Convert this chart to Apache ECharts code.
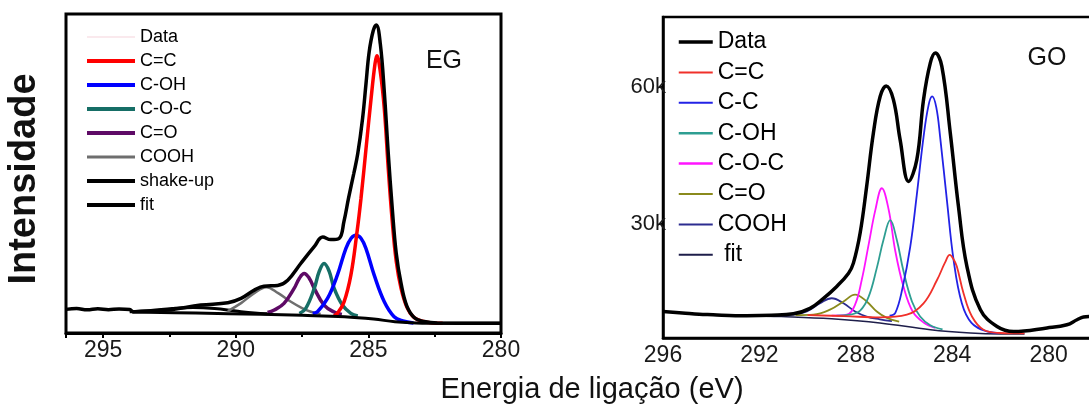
<!DOCTYPE html>
<html>
<head>
<meta charset="utf-8">
<script src="https://cdn.jsdelivr.net/npm/echarts@6/dist/echarts.min.js"></script>
<style>
  html, body { margin: 0; padding: 0; background: #fff; }
  #chart { width: 1089px; height: 407px; }
</style>
</head>
<body>
<div id="chart"></div>
<script>
// EG panel, intensity in arbitrary units  [binding energy eV, intensity]
const egFit = [[296.4, 23.7], [296.0, 24.5], [295.6, 23.2], [295.2, 24.3], [294.8, 23.4], [294.4, 24.2], [294.0, 23.5],
  [293.85, 21.3], [292.57, 23], [291.32, 28], [290.3, 30.3], [289.8, 34.7], [289.3, 43], [288.94, 47], [288.42, 47.7],
  [288.04, 53], [287.55, 69.7], [287.05, 86.3], [286.72, 96.3], [286.42, 93.7], [286.1, 95], [285.92, 112], [285.75, 135],
  [285.55, 160], [285.4, 180], [285.22, 215], [285.09, 250], [284.97, 282], [284.82, 303], [284.7, 309], [284.55, 290],
  [284.4, 242], [284.25, 180], [284.1, 125], [283.95, 80], [283.77, 50], [283.55, 27], [283.25, 15], [282.9, 11.5],
  [282.4, 10], [280, 9.7]]
const egCC = [[286.3, 17], [286.17, 19.7], [285.92, 31], [285.66, 58], [285.43, 101], [285.28, 134.7], [285.09, 184.7],
  [284.9, 234.7], [284.75, 270], [284.68, 278], [284.55, 262], [284.4, 225], [284.25, 165], [284.1, 112], [283.95, 72],
  [283.77, 45], [283.55, 26], [283.3, 16], [283.0, 12], [282.6, 10], [282.2, 9.7]]
const egCOH = [[287.1, 19.5], [286.92, 21.3], [286.54, 34.7], [286.17, 58], [285.85, 84.7], [285.65, 95], [285.47, 98],
  [285.28, 95], [285.09, 84.7], [284.78, 58], [284.4, 31.3], [284.03, 16.3], [283.7, 12], [283.3, 10]]
const egCOC = [[287.6, 19.5], [287.36, 24.7], [287.04, 44.7], [286.85, 62], [286.67, 69.7], [286.48, 62], [286.29, 44.7],
  [285.98, 28], [285.66, 19.7], [285.4, 17]]
const egCO = [[288.8, 20.5], [288.55, 23], [288.18, 29.7], [287.8, 44.7], [287.6, 55], [287.42, 59.7], [287.23, 55],
  [287.04, 44.7], [286.67, 28], [286.29, 21], [286.0, 18.5]]
const egCOOH = [[290.3, 22], [289.8, 30], [289.3, 40], [288.85, 46], [288.4, 40], [287.92, 31.3], [287.5, 25],
  [287.17, 21.3], [286.8, 19]]
const egShake = [[294.0, 21.3], [293.2, 22.5], [292.4, 24.5], [291.6, 25.5], [290.8, 24.5], [290.0, 22], [289.3, 20],
  [288.8, 19.2]]
const egBase = [[293.9, 21], [291.5, 20], [289.05, 18.7], [287.5, 17.7], [285.9, 16.3], [284.8, 14], [284.0, 11.3],
  [283.2, 10], [282.75, 9.7], [280, 9.7]]

// GO panel, counts
const goData = [[296, 10800], [295.2, 10500], [294.5, 10200], [293.92, 10100], [293.0, 9900], [292.53, 9900],
  [291.5, 10000], [290.59, 10300], [289.9, 11500], [289.34, 13700], [288.79, 16300], [288.3, 19200], [288.1, 21400],
  [287.82, 28000], [287.55, 38200], [287.27, 49900], [286.99, 57900], [286.74, 60200], [286.44, 57200], [286.16, 48400],
  [285.81, 39300], [285.47, 44000], [285.19, 57200], [284.91, 65200], [284.7, 67400], [284.43, 64500], [284.08, 49900],
  [283.74, 33800], [283.39, 20700], [282.83, 11200], [282.14, 7500], [281.45, 6400], [280.07, 7200], [279.24, 7900],
  [278.82, 9000], [278.55, 9600], [278.3, 9700]]
const goCdC = [[290, 10000], [288.5, 9800], [286.99, 9500], [285.88, 10100], [285.19, 12600], [284.63, 17700],
  [284.3, 21500], [284.1, 23200], [283.95, 22300], [283.81, 20700], [283.53, 14800], [283.18, 9700], [282.7, 6800],
  [282.0, 6100], [281.0, 6000]]
const goCC = [[286.6, 9900], [286.36, 10500], [286.06, 16000], [285.74, 25000], [285.47, 36300], [285.19, 49000],
  [284.98, 56000], [284.83, 57900], [284.66, 55500], [284.5, 49000], [284.22, 35200], [283.94, 22000], [283.6, 12600],
  [283.2, 8300], [282.6, 6500], [282.0, 6100]]
const goCOH = [[288.8, 9900], [288.24, 10100], [287.82, 11000], [287.47, 14000], [287.13, 20300], [286.85, 26500],
  [286.57, 30800], [286.3, 26500], [286.02, 19600], [285.67, 13000], [285.33, 9700], [284.91, 7800], [284.4, 6900]]
const goCOC = [[289.0, 9900], [288.37, 10100], [288.03, 12300], [287.75, 17800], [287.47, 25400], [287.19, 33000],
  [286.92, 37800], [286.64, 33200], [286.36, 24000], [286.02, 16200], [285.64, 10800], [285.19, 8400], [284.7, 7200]]
const goCO = [[290.5, 10000], [289.76, 10100], [289.07, 11200], [288.51, 13000], [288.03, 14500], [287.55, 13000],
  [287.13, 10800], [286.71, 9400], [286.2, 8600]]
const goCOOH = [[291.0, 10000], [290.59, 10100], [290.03, 10800], [289.48, 12600], [289.0, 13700], [288.51, 12600],
  [288.03, 10800], [287.55, 9700], [287.0, 9100], [286.5, 8700]]
const goBase = [[292.5, 9900], [291.1, 9700], [289.0, 9200], [287.0, 8300], [284.9, 6800], [283.25, 6100],
  [282.0, 5900], [281.0, 5900]]
const goYLabels = [30000, 60000]

const FONT = '"Liberation Sans", Arial, sans-serif'

function line(name, data, color, width, idx, z) {
  return {
    name: name,
    type: 'line',
    data: data,
    xAxisIndex: idx,
    yAxisIndex: idx,
    symbol: 'none',
    smooth: 0.4,
    silent: true,
    z: z || 2,
    lineStyle: { color: color, width: width },
    itemStyle: { color: color }
  }
}

// legend entry with its own stroke width
function entry(name, width) {
  return { name: name, lineStyle: { width: width } }
}

const chart = echarts.init(document.getElementById('chart'), null, { renderer: 'canvas' })

chart.setOption({
  animation: false,
  backgroundColor: '#fff',
  grid: [
    { left: 66, top: 14, width: 435, height: 319, show: true, borderColor: '#000', borderWidth: 3, outerBoundsMode: 'none' },
    // right edge of this panel runs past the picture, as in the original
    { left: 663, top: 17, right: -56, bottom: 69, show: true, borderColor: '#000', borderWidth: 2.5, outerBoundsMode: 'none' }
  ],
  xAxis: [
    {
      gridIndex: 0, type: 'value', inverse: true, min: 280, max: 296.4, interval: 5,
      axisLine: { show: true, lineStyle: { color: '#000', width: 3 } },
      axisTick: { show: true, inside: false, length: 5, lineStyle: { color: '#000', width: 2 } },
      minorTick: { show: true, splitNumber: 2, length: 4, lineStyle: { color: '#000', width: 2 } },
      splitLine: { show: false },
      axisLabel: { showMaxLabel: false, margin: 6, fontSize: 23, fontFamily: FONT, color: '#1a1a1a' }
    },
    {
      gridIndex: 1, type: 'value', inverse: true, min: 276, max: 296, interval: 4,
      axisLine: { show: true, lineStyle: { color: '#000', width: 2.5 } },
      axisTick: { show: false },
      splitLine: { show: false },
      axisLabel: { margin: 6, fontSize: 23, fontFamily: FONT, color: '#1a1a1a' }
    }
  ],
  yAxis: [
    { gridIndex: 0, type: 'value', min: 0, max: 320, show: false },
    {
      gridIndex: 1, type: 'value', min: 5000, max: 75300,
      axisLine: { show: true, lineStyle: { color: '#000', width: 2.5 } },
      axisTick: { show: true, customValues: goYLabels, length: 4, lineStyle: { color: '#000', width: 2 } },
      splitLine: { show: false },
      axisLabel: {
        customValues: goYLabels, margin: -3, fontSize: 22, fontFamily: FONT, color: '#1a1a1a',
        formatter: v => (v / 1000) + 'k'
      }
    }
  ],
  legend: [
    {
      data: [entry('Data', 1.2), entry('C=C', 4), entry('C-OH', 4), entry('C-O-C', 4), entry('C=O', 4),
        entry('COOH', 3), entry('shake-up', 4), entry('fit', 4)],
      orient: 'vertical', left: 80, top: 23, itemWidth: 48, itemHeight: 14, itemGap: 6,
      itemStyle: { opacity: 0 },
      textStyle: { fontSize: 18, lineHeight: 18, fontFamily: FONT, color: '#000' },
      selectedMode: false
    },
    {
      data: [entry('Data (GO)', 3.5), entry('C=C (GO)', 2), entry('C-C (GO)', 2), entry('C-OH (GO)', 2.5),
        entry('C-O-C (GO)', 2.5), entry('C=O (GO)', 2), entry('COOH (GO)', 2), entry('fit (GO)', 2)],
      orient: 'vertical', left: 672, top: 25, itemWidth: 34, itemHeight: 14, itemGap: 6.4,
      itemStyle: { opacity: 0 },
      textStyle: { fontSize: 23, lineHeight: 24, fontFamily: FONT, color: '#000' },
      formatter: n => n === 'fit (GO)' ? ' fit' : n.replace(' (GO)', ''),
      selectedMode: false
    }
  ],
  graphic: [
    { type: 'text', x: 444, y: 61, style: { text: 'EG', fontSize: 25, fontFamily: FONT, fill: '#111', align: 'center', verticalAlign: 'middle' } },
    { type: 'text', x: 1047, y: 58, style: { text: 'GO', fontSize: 25, fontFamily: FONT, fill: '#111', align: 'center', verticalAlign: 'middle' } },
    { type: 'text', x: 25, y: 179, rotation: Math.PI / 2, style: { text: 'Intensidade', fontSize: 38, fontWeight: 'bold', fontFamily: FONT, fill: '#111', align: 'center', verticalAlign: 'middle' } },
    { type: 'text', x: 592, y: 390, style: { text: 'Energia de ligação (eV)', fontSize: 29, fontFamily: FONT, fill: '#111', align: 'center', verticalAlign: 'middle' } }
  ],
  series: [
    // EG
    line('Data', egFit, '#f5d3db', 1, 0, 1),
    line('shake-up', egShake, '#000', 3, 0),
    line('COOH', egCOOH, '#6e6e6e', 2.5, 0),
    line('C=O', egCO, '#5e0a66', 3.5, 0),
    line('C-O-C', egCOC, '#166e66', 3.5, 0),
    line('C-OH', egCOH, '#0000ff', 3.5, 0),
    line('C=C', egCC, '#ff0000', 3.5, 0),
    line('', egBase, '#000', 3, 0),
    line('fit', egFit, '#000', 3.5, 0, 3),
    // GO
    line('fit (GO)', goBase, '#1e1e4a', 1.5, 1),
    line('COOH (GO)', goCOOH, '#2c2c90', 1.8, 1),
    line('C=O (GO)', goCO, '#8a8a1c', 1.8, 1),
    line('C-O-C (GO)', goCOC, '#ff14ff', 1.8, 1),
    line('C-OH (GO)', goCOH, '#2e9e92', 1.8, 1),
    line('C-C (GO)', goCC, '#2222e6', 1.8, 1),
    line('C=C (GO)', goCdC, '#f0302a', 1.8, 1),
    line('Data (GO)', goData, '#000', 3.5, 1, 3)
  ]
})
</script>
</body>
</html>
